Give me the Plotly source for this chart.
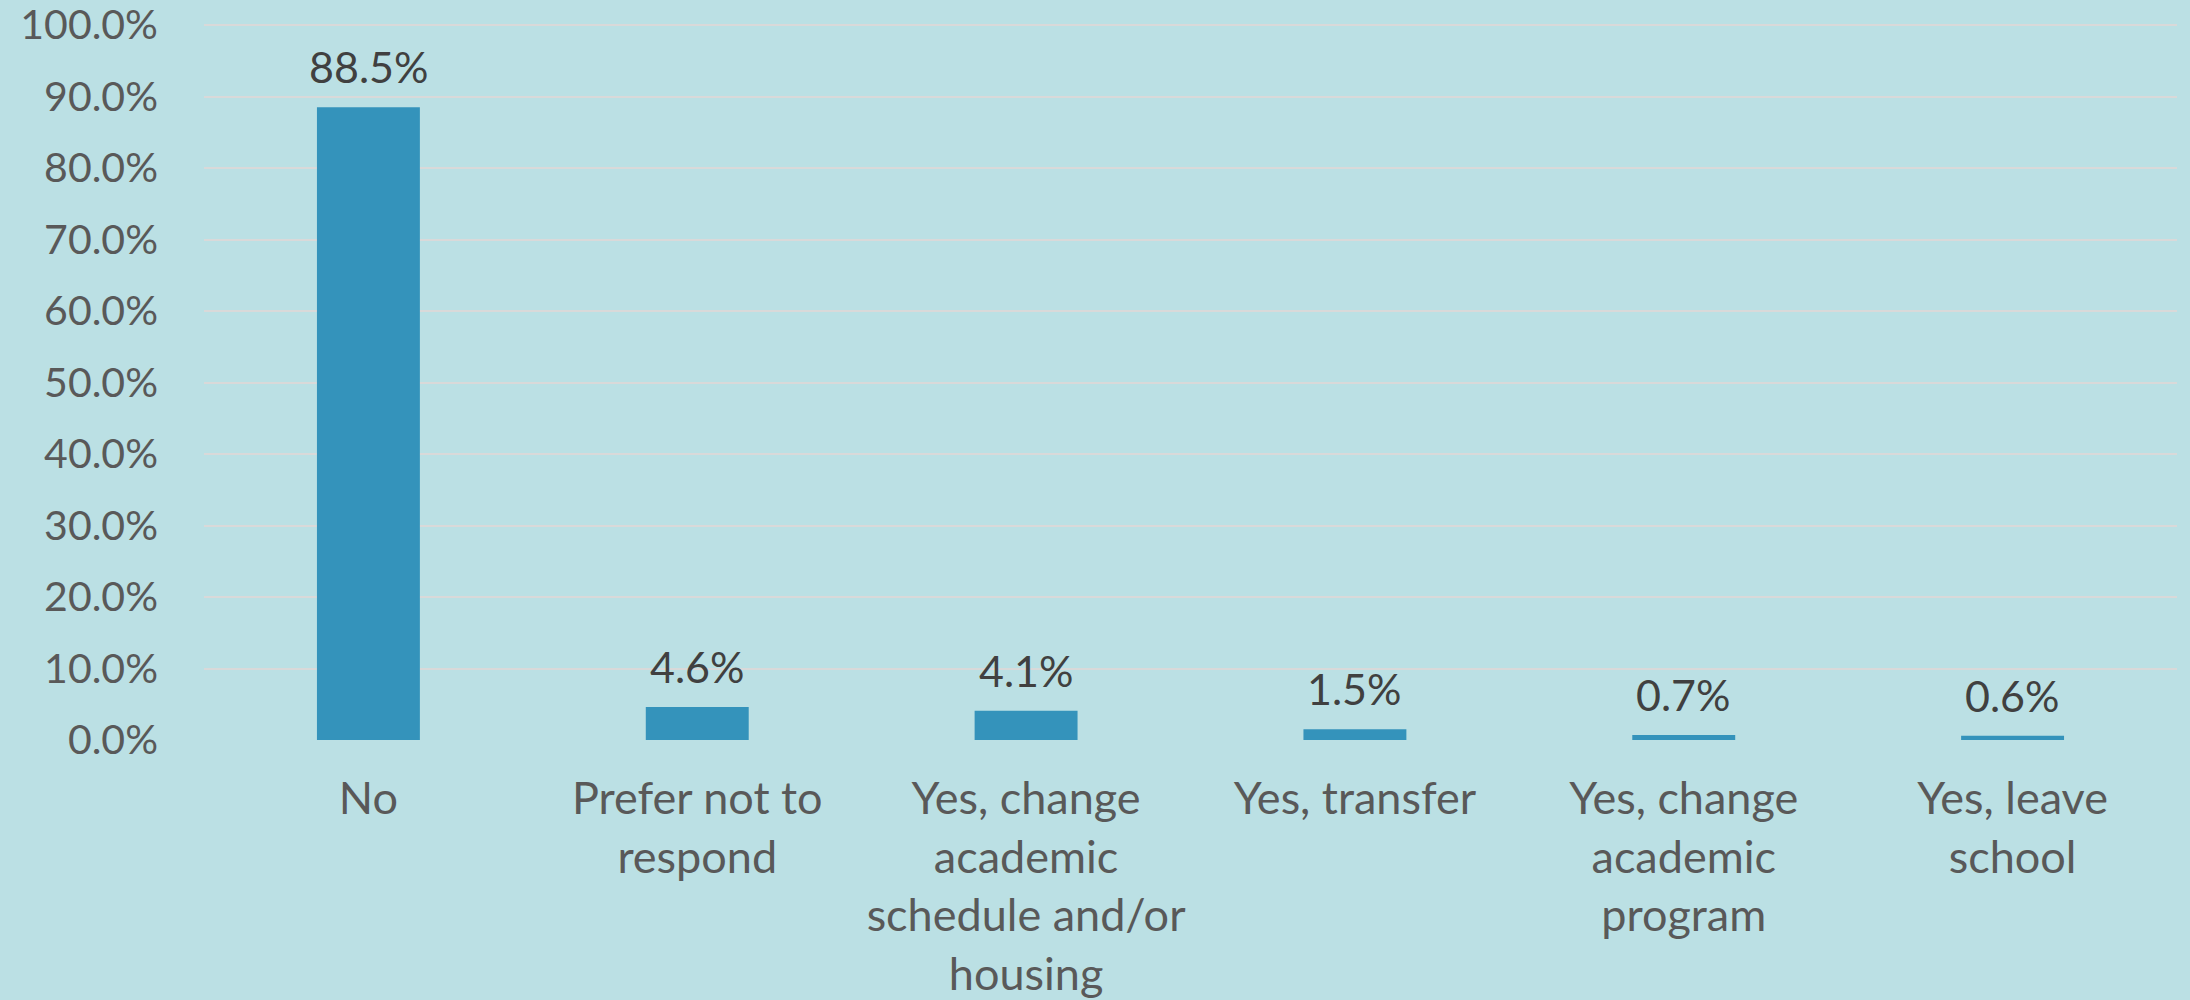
import plotly.graph_objects as go

categories = ["No", "Prefer not to<br>respond", "Yes, change<br>academic<br>schedule and/or<br>housing",
              "Yes, transfer", "Yes, change<br>academic<br>program", "Yes, leave<br>school"]
values = [0.885, 0.046, 0.041, 0.015, 0.007, 0.006]
labels = ["88.5%", "4.6%", "4.1%", "1.5%", "0.7%", "0.6%"]
y_ticks = [0.0, 0.1, 0.2, 0.3, 0.4, 0.5, 0.6, 0.7, 0.8, 0.9, 1.0]

BG = "#bbe0e4"
BAR = "#3493bb"
FONT = "Lato, 'Open Sans', sans-serif"

fig = go.Figure()
fig.add_trace(go.Bar(x=categories, y=values, marker=dict(color=BAR, line=dict(width=0)),
                     width=0.313, hoverinfo="skip"))

for c, v, t in zip(categories, values, labels):
    fig.add_annotation(x=c, y=v, text=t, showarrow=False, yanchor="bottom", yshift=13,
                       font=dict(family=FONT, size=43, color="#404040"))

fig.update_layout(
    width=2190, height=1000,
    paper_bgcolor=BG, plot_bgcolor=BG,
    margin=dict(l=204, r=13, t=24, b=260, autoexpand=False),
    showlegend=False,
    font=dict(family=FONT, size=40, color="#595959"),
)
fig.update_yaxes(range=[0, 1.0015], tickmode="array", tickvals=y_ticks,
                 ticktext=[f"{v*100:.1f}%" for v in y_ticks], showgrid=True,
                 gridcolor="#d9d9d9", gridwidth=2, zeroline=False, showline=False,
                 ticks="", ticklabelstandoff=45, automargin=False,
                 ticklabeloverflow="allow",
                 tickfont=dict(size=41, color="#595959"))
fig.update_xaxes(showgrid=False, showline=False, ticks="", ticklabelstandoff=28,
                 automargin=False, ticklabeloverflow="allow",
                 tickfont=dict(size=45, color="#595959"), tickangle=0)

fig.write_html("out.html", config={"displayModeBar": False},
               post_script="document.body.style.margin='0';document.body.style.background='%s';" % BG)
